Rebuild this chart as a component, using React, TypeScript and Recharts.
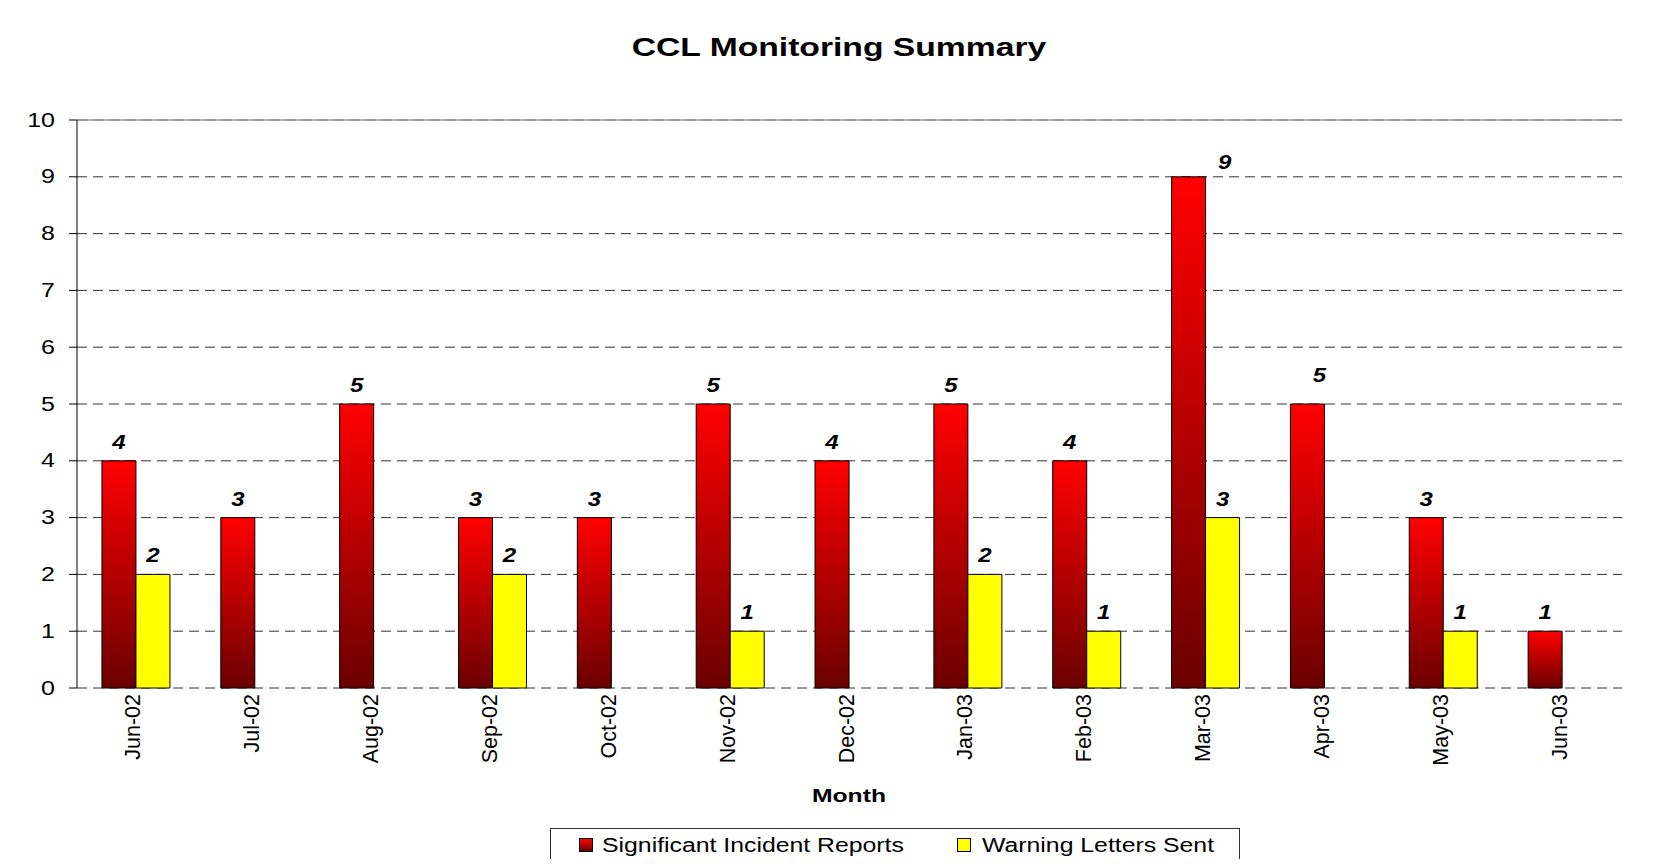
import React from 'react';
import { BarChart, Bar, XAxis, YAxis, CartesianGrid, LabelList, ReferenceLine } from 'recharts';

const months = ['Jun-02', 'Jul-02', 'Aug-02', 'Sep-02', 'Oct-02', 'Nov-02', 'Dec-02', 'Jan-03', 'Feb-03', 'Mar-03', 'Apr-03', 'May-03', 'Jun-03'];
const incidentReports = [4, 3, 5, 3, 3, 5, 4, 5, 4, 9, 5, 3, 1];
const warningLetters = [2, 0, 0, 2, 0, 1, 0, 2, 1, 3, 0, 1, 0];
const yTicks = [0, 1, 2, 3, 4, 5, 6, 7, 8, 9, 10];

const data = months.map((m, i) => ({
  month: m,
  pos: i + 0.5,
  incidents: incidentReports[i],
  warnings: warningLetters[i],
}));
// tick marks sit between the months, like the old Excel chart
const edgeTicks = months.map((_, i) => i).concat(months.length);

const FONT = '"Liberation Sans", Arial, sans-serif';

// a couple of labels were dragged by hand in the original
const incidentNudge: Record<number, [number, number]> = { 9: [36, 4], 10: [12, -10] };

const makeLabel = (nudge: Record<number, [number, number]>) => (props: any) => {
  const { x, y, width, value, index } = props;
  const [dx, dy] = nudge[index] || [0, 0];
  return (
    <g transform={`translate(${x + width / 2 + dx},${y - 12 + dy})`}>
      <text
        transform="scale(1.2,1)"
        textAnchor="middle"
        fontSize={20}
        fontWeight="bold"
        fontStyle="italic"
        fontFamily={FONT}
        fill="#000"
      >
        {value}
      </text>
    </g>
  );
};

const YTick = ({ x, y, payload }: any) => (
  <g transform={`translate(${x},${y})`}>
    <text transform="scale(1.25,1)" textAnchor="end" dominantBaseline="central" fontSize={20} fontFamily={FONT} fill="#000">
      {payload.value}
    </text>
  </g>
);

const XTick = ({ x, y, payload }: any) => (
  <text
    transform={`translate(${x - 3},${y}) rotate(-90)`}
    textAnchor="end"
    dominantBaseline="central"
    fontSize={21.5}
    fontFamily={FONT}
    fill="#000"
  >
    {payload.value}
  </text>
);

const stretched = (sx: number): React.CSSProperties => ({
  position: 'absolute',
  transform: `scaleX(${sx})`,
  whiteSpace: 'nowrap',
  fontFamily: FONT,
  lineHeight: 1,
});

const frameLine = (s: React.CSSProperties): React.CSSProperties => ({
  position: 'absolute',
  background: '#111',
  zIndex: 10,
  ...s,
});

export default function App() {
  return (
    <div style={{ position: 'relative', width: 1656, height: 851 }}>
      <div style={{ position: 'absolute', left: -8, top: -8, width: 1672, height: 867, overflow: 'hidden', background: '#fff' }}>
        <div style={{ ...stretched(1.32), left: 0, width: 1678, top: 35, textAlign: 'center', fontSize: 25.5, fontWeight: 'bold' }}>
          CCL Monitoring Summary
        </div>

        <div style={{ position: 'absolute', left: 0, top: 0 }}>
          <BarChart
            width={1672}
            height={867}
            data={data}
            margin={{ top: 120, right: 50, bottom: 79, left: 0 }}
            barCategoryGap="21%"
            barGap={0}
          >
            <defs>
              <linearGradient id="redFill" x1="0" y1="0" x2="0" y2="1">
                <stop offset="0%" stopColor="#ff0000" />
                <stop offset="100%" stopColor="#6a0000" />
              </linearGradient>
            </defs>
            <CartesianGrid xAxisId="cat" yAxisId="left" vertical={false} stroke="#333" strokeDasharray="10 6" />
            <XAxis
              xAxisId="edge"
              type="number"
              dataKey="pos"
              domain={[0, months.length]}
              ticks={edgeTicks}
              allowDataOverflow
              tick={false}
              tickSize={7}
              tickLine={{ stroke: '#000' }}
              axisLine={{ stroke: '#000' }}
              height={0}
            />
            <XAxis
              xAxisId="cat"
              dataKey="month"
              interval={0}
              tick={<XTick />}
              tickLine={false}
              axisLine={false}
              tickSize={0}
              tickMargin={6}
              height={100}
            />
            <YAxis
              yAxisId="left"
              domain={[0, 10]}
              ticks={yTicks}
              interval={0}
              width={77}
              tick={<YTick />}
              tickSize={8}
              tickMargin={14}
              tickLine={{ stroke: '#000' }}
              axisLine={{ stroke: '#000' }}
            />
            <YAxis yAxisId="right" orientation="right" domain={[0, 10]} width={0} tick={false} tickLine={false} axisLine={{ stroke: '#999', strokeWidth: 1.5 }} />
            <ReferenceLine yAxisId="left" xAxisId="cat" y={10} stroke="#999" strokeWidth={1.5} />
            <Bar xAxisId="cat" yAxisId="left" dataKey="incidents" fill="url(#redFill)" stroke="#000" strokeWidth={1} isAnimationActive={false}>
              <LabelList dataKey="incidents" content={makeLabel(incidentNudge)} />
            </Bar>
            <Bar xAxisId="cat" yAxisId="left" dataKey="warnings" fill="#ffff00" stroke="#000" strokeWidth={1} isAnimationActive={false}>
              <LabelList dataKey="warnings" content={makeLabel({})} />
            </Bar>
          </BarChart>
        </div>

        <div style={{ ...stretched(1.3), left: 0, width: 1698, top: 786, textAlign: 'center', fontSize: 19, fontWeight: 'bold' }}>
          Month
        </div>

        <div style={{ position: 'absolute', left: 550, top: 828, width: 688, height: 33, border: '1px solid #333', background: '#fff' }}>
          <div style={{ position: 'absolute', left: 28, top: 9, width: 12, height: 12, border: '1px solid #000', background: 'linear-gradient(#ff0000, #6a0000)' }} />
          <div style={{ ...stretched(1.24), transformOrigin: 'left', left: 51, top: 6, fontSize: 20 }}>Significant Incident Reports</div>
          <div style={{ position: 'absolute', left: 406, top: 9, width: 12, height: 12, border: '1px solid #000', background: '#ffff00' }} />
          <div style={{ ...stretched(1.24), transformOrigin: 'left', left: 431, top: 6, fontSize: 20 }}>Warning Letters Sent</div>
        </div>

        {/* outer chart frame, open at the bottom like the cropped original */}
        <div style={frameLine({ left: 5, top: 4, width: 1664, height: 2 })} />
        <div style={frameLine({ left: 5, top: 4, width: 2, height: 870 })} />
        <div style={frameLine({ left: 1667, top: 4, width: 2, height: 870 })} />
      </div>
    </div>
  );
}
